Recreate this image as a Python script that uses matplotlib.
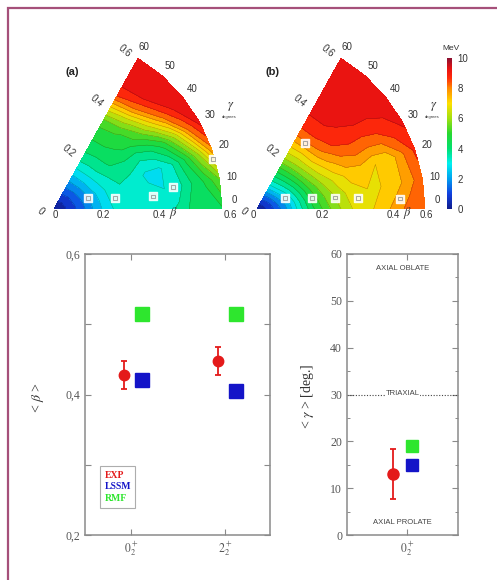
import numpy as np
import matplotlib
matplotlib.use('Agg')
import matplotlib.pyplot as plt
from matplotlib.colors import LinearSegmentedColormap, Normalize
from matplotlib.lines import Line2D
from matplotlib.patches import Rectangle
import matplotlib.cm as cm
from matplotlib.ticker import MultipleLocator

plt.rcParams['font.family'] = ['Liberation Serif', 'DejaVu Serif']
plt.rcParams['mathtext.fontset'] = 'stix'

W, H = 497, 580

# ---------------- data: potential energy surfaces (MeV) ----------------
beta_grid = [0.0, 0.05, 0.10, 0.15, 0.20, 0.25, 0.30, 0.35, 0.40, 0.45, 0.50, 0.55, 0.60]
gamma_grid = [0, 10, 20, 30, 40, 50, 60]

energy_a = [
    [0, 0.6, 1.3, 2.2, 2.9, 3.3, 3.5, 3.4, 3.3, 3.6, 4.2, 4.1, 4.4],
    [0, 0.6, 1.4, 2.3, 3.0, 3.4, 3.4, 3.1, 3.0, 3.3, 4.0, 4.6, 5.5],
    [0, 0.7, 1.5, 2.4, 3.1, 3.5, 3.3, 2.9, 2.9, 3.5, 4.6, 6.0, 7.8],
    [0, 0.7, 1.6, 2.6, 3.3, 3.8, 3.8, 3.6, 4.0, 4.8, 6.2, 8.0, 9.2],
    [0, 0.7, 1.7, 2.7, 3.5, 4.1, 4.4, 4.7, 5.4, 6.7, 8.2, 9.2, 9.4],
    [0, 0.8, 1.8, 2.8, 3.6, 4.2, 4.7, 5.1, 6.3, 8.0, 9.1, 9.4, 9.5],
    [0, 0.8, 1.8, 2.8, 3.7, 4.3, 4.7, 5.3, 6.8, 8.5, 9.2, 9.4, 9.4],
]
energy_b = [
    [0, 0.8, 1.8, 3.2, 4.4, 5.3, 6.0, 6.6, 6.9, 7.2, 7.8, 8.2, 8.5],
    [0, 0.9, 2.0, 3.4, 4.7, 5.6, 6.3, 6.8, 7.0, 7.0, 7.2, 7.8, 8.3],
    [0, 1.0, 2.3, 3.7, 5.0, 6.0, 6.7, 7.2, 7.3, 7.0, 7.1, 7.9, 8.6],
    [0, 1.1, 2.6, 4.0, 5.4, 6.5, 7.3, 7.9, 8.2, 8.2, 8.4, 8.8, 9.1],
    [0, 1.2, 2.9, 4.3, 5.7, 6.9, 7.9, 8.6, 8.9, 9.0, 9.1, 9.2, 9.3],
    [0, 1.3, 3.1, 4.5, 5.9, 7.0, 8.2, 8.9, 9.1, 9.2, 9.3, 9.3, 9.4],
    [0, 1.4, 3.2, 4.6, 6.0, 7.1, 8.2, 8.9, 9.1, 9.2, 9.3, 9.4, 9.4],
]
energy_levels = np.arange(0, 10.01, 0.5)
line_levels = np.arange(0.5, 10, 0.5)
colorbar_ticks = [0, 2, 4, 6, 8, 10]
radial_ticks = [0, 0.2, 0.4, 0.6]
radial_tick_labels = ['0', '0.2', '0.4', '0.6']
gamma_ticks = [0, 10, 20, 30, 40, 50, 60]

# state positions marked on the surfaces (beta, gamma in degrees)
states_a_beta = [0.127, 0.221, 0.356, 0.432, 0.593]
states_a_gamma = [17, 10, 7, 10, 17]
states_b_beta = [0.107, 0.200, 0.281, 0.363, 0.512, 0.285]
states_b_gamma = [21, 11, 8, 6, 4, 53]

# ---------------- data: deformation parameters ----------------
categories_beta = ['$0^+_2$', '$2^+_2$']
exp_beta = [0.428, 0.448]
exp_beta_err = [0.02, 0.02]
lssm_beta = [0.420, 0.405]
rmf_beta = [0.515, 0.515]
beta_yticks = [0.2, 0.3, 0.4, 0.5, 0.6]
beta_yticklabels = ['0,2', '', '0,4', '', '0,6']

categories_gamma = ['$0^+_2$']
exp_gamma = [13.0]
exp_gamma_err = [5.4]
lssm_gamma = [15.0]
rmf_gamma = [19.0]

legend_labels = ['EXP', 'LSSM', 'RMF']
RED, BLUE, GREEN = '#e41a1a', '#1414c8', '#2ee62e'

cmap = LinearSegmentedColormap.from_list('pes', [
    (0.00, '#101c8c'), (0.10, '#1040e0'), (0.20, '#00a0f0'), (0.30, '#00f0f0'),
    (0.40, '#00e070'), (0.50, '#28d830'), (0.60, '#a0e010'), (0.70, '#ffe000'),
    (0.80, '#ff8a00'), (0.87, '#ff2a0a'), (0.93, '#e81212'), (1.00, '#8c1030')])
norm = Normalize(0, 10)

fig = plt.figure(figsize=(W / 100, H / 100), dpi=100)

# ---------------- wedge plots ----------------
SX, SY = 280.0, 290.0
OX, OY = 54.0, 209.0


def d(px, py):
    return ((px - OX) / SX, (OY - py) / SY)


L, R, T, B = 15, 445, 28, 232
axw = fig.add_axes([L / W, 1 - B / H, (R - L) / W, (B - T) / H])
xa, ya = d(L, B)
xb, yb = d(R, T)
axw.set_xlim(xa, xb)
axw.set_ylim(ya, yb)
axw.axis('off')

SANS = ['Liberation Sans', 'DejaVu Sans']
LAB = '#333333'
panels = [
    (0.0, energy_a, states_a_beta, states_a_gamma, '(a)', (72, 72),
     [0.004, 0.175, 0.375, 0.629], 0.425),
    (203 / 280, energy_b, states_b_beta, states_b_gamma, '(b)', (272, 72),
     [-0.014, 0.232, 0.486, 0.604], 0.536),
]
Bm, Gm = np.meshgrid(np.array(beta_grid), np.radians(gamma_grid))
for ox, E, sb, sg, tag, tagpos, bpos, betapos in panels:
    X = Bm * np.cos(Gm) + ox
    Y = Bm * np.sin(Gm)
    Z = np.array(E)
    axw.contourf(X, Y, Z, levels=energy_levels, cmap=cmap, norm=norm)
    axw.contour(X, Y, Z, levels=line_levels, colors='k', linewidths=0.3, alpha=0.35)
    # state markers
    sbx = ox + np.array(sb) * np.cos(np.radians(sg))
    sby = np.array(sb) * np.sin(np.radians(sg))
    axw.scatter(sbx, sby, marker='s', s=30, facecolor='white', edgecolor='white', alpha=0.85, zorder=5)
    axw.scatter(sbx, sby, marker='s', s=7, facecolor='none', edgecolor='#999999', linewidth=0.6, zorder=6)
    # radial labels along the 60 degree edge
    for r, lab in zip(radial_ticks, radial_tick_labels):
        px = ox + r * np.cos(np.radians(60)) - 0.047
        py = r * np.sin(np.radians(60)) + (0.026 if r > 0 else -0.007)
        axw.text(px, py, lab, rotation=-40, ha='center', va='center', fontsize=7,
                 family=SANS, color=LAB)
    # beta labels along bottom
    for xx, lab in zip(bpos, radial_tick_labels):
        axw.text(ox + xx, -0.019, lab, ha='center', va='center', fontsize=7, family=SANS, color=LAB)
    axw.text(ox + betapos, -0.014, r'$\beta$', ha='center', va='center', fontsize=9, color=LAB)
    # gamma labels along arc
    for g in gamma_ticks:
        ang = np.radians(max(g, 2.7))
        axw.text(ox + 0.645 * np.cos(ang), 0.645 * np.sin(ang), str(g), ha='center', va='center',
                 fontsize=7, family=SANS, color=LAB)
    axw.text(ox + 0.632, 0.352, r'$\gamma$', ha='center', va='center', fontsize=9, color=LAB)
    axw.text(ox + 0.626, 0.318, 'degrees', ha='center', va='center', fontsize=3, family=SANS, color=LAB)
    tx, ty = d(*tagpos)
    axw.text(tx, ty, tag, ha='center', va='center', fontsize=8, fontweight='bold', family=SANS, color='#222222')

# colorbar
cax = fig.add_axes([447 / W, 1 - 209 / H, 5 / W, 151 / H])
cb = fig.colorbar(cm.ScalarMappable(norm=norm, cmap=cmap), cax=cax, ticks=colorbar_ticks)
cb.outline.set_visible(False)
cax.tick_params(length=0, labelsize=7, pad=4, labelcolor=LAB)
for t in cax.get_yticklabels():
    t.set_family(SANS)
fig.text(451 / W, 1 - 48 / H, 'MeV', ha='center', va='center', fontsize=6, family=SANS, color=LAB)

# ---------------- <beta> plot ----------------
SP = '#8a8a8a'
TK = '#555555'


def style(ax):
    for s in ax.spines.values():
        s.set_color(SP)
        s.set_linewidth(1.1)
    ax.tick_params(direction='in', top=True, right=True, length=4, width=0.8,
                   color=SP, labelcolor=TK, labelsize=8.5)
    ax.tick_params(which='minor', direction='in', top=True, right=True, length=2.5, width=0.7, color=SP)


ax1 = fig.add_axes([85 / W, 1 - 535 / H, 185 / W, 281 / H])
xc = np.arange(1, len(categories_beta) + 1)
ax1.errorbar(xc - 0.07, exp_beta, yerr=exp_beta_err, fmt='o', color=RED, ms=7.5,
             capsize=2.5, elinewidth=1.3, capthick=1.3, zorder=4)
ax1.plot(xc + 0.12, lssm_beta, 's', color=BLUE, ms=9.5, zorder=4)
ax1.plot(xc + 0.12, rmf_beta, 's', color=GREEN, ms=9.5, zorder=4)
ax1.set_xlim(0.511, 2.479)
ax1.set_ylim(0.2, 0.6)
ax1.set_xticks(xc)
ax1.set_xticklabels(categories_beta)
ax1.set_yticks(beta_yticks)
ax1.set_yticklabels(beta_yticklabels)
style(ax1)
proxies = [Line2D([], [], ls='none') for _ in legend_labels]
leg = ax1.legend(proxies, legend_labels, loc='lower left', bbox_to_anchor=(0.082, 0.097),
                 borderaxespad=0, handlelength=0, handletextpad=0, borderpad=0.45,
                 labelspacing=0.3, fancybox=False, edgecolor='#999999',
                 prop=dict(family='Liberation Serif', weight='bold', size=7))
leg.get_frame().set_linewidth(0.8)
for t, c in zip(leg.get_texts(), [RED, BLUE, GREEN]):
    t.set_color(c)
fig.text(38 / W, 1 - 398 / H, r'< $\beta$ >', rotation=90, ha='center', va='center', fontsize=10, color='#333333')

# ---------------- <gamma> plot ----------------
ax2 = fig.add_axes([347 / W, 1 - 535 / H, 111 / W, 281 / H])
xg = np.arange(1, len(categories_gamma) + 1)
ax2.errorbar(xg - 0.126, exp_gamma, yerr=exp_gamma_err, fmt='o', color=RED, ms=8,
             capsize=2.5, elinewidth=1.3, capthick=1.3, zorder=4)
ax2.plot(xg + 0.045, lssm_gamma, 's', color=BLUE, ms=9, zorder=4)
ax2.plot(xg + 0.045, rmf_gamma, 's', color=GREEN, ms=9, zorder=4)
ax2.set_xlim(0.46, 1.46)
ax2.set_ylim(0, 60)
ax2.set_xticks(xg)
ax2.set_xticklabels(categories_gamma)
ax2.yaxis.set_major_locator(MultipleLocator(10))
ax2.yaxis.set_minor_locator(MultipleLocator(5))
style(ax2)
ax2.axhline(30, color='#444444', ls=(0, (1, 1.5)), lw=0.8)
ax2.text(0.5, 30.3, 'TRIAXIAL', ha='center', va='center', fontsize=5.5, family=SANS, color='#444444',
         transform=ax2.get_yaxis_transform(),
         bbox=dict(facecolor='white', edgecolor='none', pad=0.6))
ax2.text(0.5, 57.0, 'AXIAL OBLATE', ha='center', va='center', fontsize=5.5, family=SANS, color='#444444',
         transform=ax2.get_yaxis_transform())
ax2.text(0.5, 2.6, 'AXIAL PROLATE', ha='center', va='center', fontsize=5.5, family=SANS, color='#444444',
         transform=ax2.get_yaxis_transform())
fig.text(307 / W, 1 - 396 / H, r'< $\gamma$ > [deg.]', rotation=90, ha='center', va='center',
         fontsize=10, color='#333333')

# frame
fig.patches.append(Rectangle((7.5 / W, -0.2), 1.5, 1.2 - 7.5 / H, transform=fig.transFigure,
                             fill=False, edgecolor='#a5507a', linewidth=1.6, clip_on=False))

fig.savefig('out.png', dpi=100)
